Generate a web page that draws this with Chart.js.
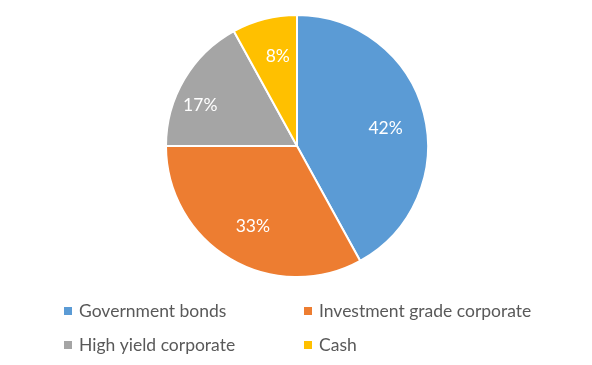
<!DOCTYPE html>
<html>
<head>
<meta charset="utf-8">
<script src="https://cdn.jsdelivr.net/npm/chart.js@4"></script>
<style>
  html, body { margin: 0; padding: 0; background: #fff; }
  #wrap { width: 592px; height: 365px; position: relative; }
</style>
</head>
<body>
<div id="wrap"><canvas id="pieChart"></canvas></div>
<script>
// =====================
// DATA
// =====================
const categories = ['Government bonds', 'Investment grade corporate', 'High yield corporate', 'Cash'];
const shares = [42, 33, 17, 8];
const sliceColors = ['#5B9BD5', '#ED7D31', '#A5A5A5', '#FFC000'];

const FONT = 'Lato, "Open Sans", sans-serif';

// =====================
// SLICE LABELS (white % inside)
// where along the slice (angle fraction) and how far out (radius fraction)
// =====================
const labelAngle = [0.52, 0.485, 0.37, 0.58];
const labelRadius = [0.69, 0.70, 0.80, 0.70];

const sliceLabels = {
  id: 'sliceLabels',
  afterDatasetsDraw(chart) {
    const ctx = chart.ctx;
    const meta = chart.getDatasetMeta(0);
    ctx.save();
    ctx.font = '17.5px ' + FONT;
    ctx.fillStyle = '#ffffff';
    ctx.textAlign = 'center';
    ctx.textBaseline = 'middle';
    meta.data.forEach((arc, i) => {
      const p = arc.getProps(['x', 'y', 'startAngle', 'endAngle', 'outerRadius'], true);
      const a = p.startAngle + (p.endAngle - p.startAngle) * labelAngle[i];
      const r = p.outerRadius * labelRadius[i];
      ctx.fillText(shares[i] + '%', p.x + Math.cos(a) * r, p.y + Math.sin(a) * r);
    });
    ctx.restore();
  }
};

// =====================
// LEGEND (2 x 2 grid at the bottom)
// =====================
const gridLegend = {
  id: 'gridLegend',
  afterDraw(chart) {
    const ctx = chart.ctx;
    const colX = [64, 304];
    const rowY = [311, 345];
    ctx.save();
    ctx.font = '17.5px ' + FONT;
    ctx.textBaseline = 'middle';
    ctx.textAlign = 'left';
    categories.forEach((name, i) => {
      const x = colX[i % 2];
      const y = rowY[Math.floor(i / 2)];
      ctx.fillStyle = sliceColors[i];
      ctx.fillRect(x, y - 4, 8, 8);
      ctx.fillStyle = '#595959';
      ctx.fillText(name, x + 15, y);
    });
    ctx.restore();
  }
};

// =====================
// CHART
// =====================
new Chart(document.getElementById('pieChart'), {
  type: 'pie',
  data: {
    labels: categories,
    datasets: [{
      data: shares,
      backgroundColor: sliceColors,
      borderColor: '#ffffff',
      borderWidth: 2,
      hoverOffset: 0
    }]
  },
  options: {
    responsive: true,
    maintainAspectRatio: false,
    animation: false,
    layout: { padding: { top: 14, bottom: 87, left: 165, right: 163 } },
    plugins: {
      legend: { display: false },
      tooltip: { enabled: false }
    }
  },
  plugins: [sliceLabels, gridLegend]
});
</script>
</body>
</html>
